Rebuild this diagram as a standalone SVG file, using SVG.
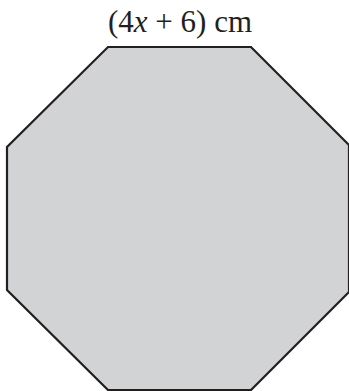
<svg xmlns="http://www.w3.org/2000/svg" width="349" height="391" viewBox="0 0 349 391">
<style>
.shape{fill:#d1d3d4;stroke:#231f20;stroke-width:2.2;stroke-linejoin:miter}
.lbl{font-family:"Liberation Serif","Times New Roman",serif;font-size:31px;fill:#231f20}
</style>
<rect width="349" height="391" fill="#ffffff"/>
<g id="octagon">
<polygon class="shape" points="108,47 251,47 349,145 349,292 251,390 108,390 7,290 7,147"/>
</g>
<g id="label">
<text class="lbl" x="180" y="32" text-anchor="middle">(4<tspan font-style="italic">x</tspan> + 6) cm</text>
</g>
</svg>
